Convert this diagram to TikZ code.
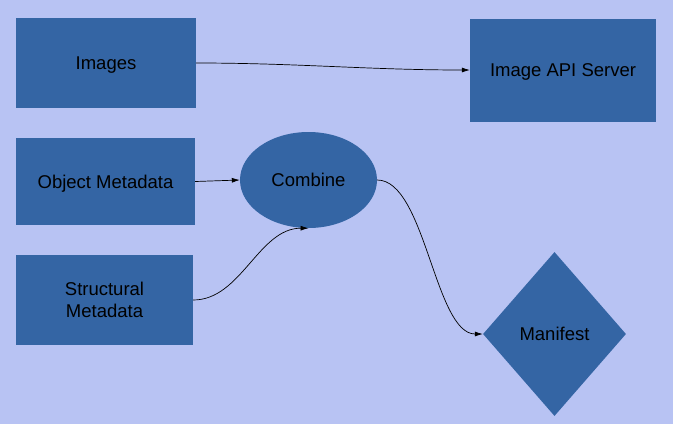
\documentclass[tikz,border=0pt]{standalone}
\usepackage{fontspec}
\setmainfont{Liberation Sans}
\usetikzlibrary{positioning, arrows.meta, shapes.geometric}
\definecolor{bgblue}{HTML}{B8C3F3}
\definecolor{boxblue}{HTML}{3465A4}
\begin{document}
\begin{tikzpicture}[x=1pt, y=-1pt, >={Latex[length=8pt,width=5pt]},
    every node/.style={font=\fontsize{18.5}{21.5}\selectfont, text=black},
    box/.style={rectangle, fill=boxblue, inner sep=0pt, align=center},
    oneline/.style={text height=14pt, text depth=0.4pt},
    link/.style={->, line width=0.7pt, black}]
			\fill[bgblue] (0,0) rectangle (673,424);
			\useasboundingbox (0,0) rectangle (673,424);
			% Nodes
			\node (Images) [box, oneline, minimum width=180pt, minimum height=90pt] at (106,63) {Images};
			\node (Server) [box, oneline, minimum width=186pt, minimum height=103pt] at (563,70) {Image API Server};
			\node (ObjMeta) [box, oneline, minimum width=179pt, minimum height=87pt] at (105.5,181.5) {Object Metadata};
			\node (StructMeta) [box, minimum width=177pt, minimum height=90pt] at (104.5,300) {Structural\\Metadata};
			\node (Combine) [ellipse, oneline, fill=boxblue, inner sep=0pt, minimum width=137pt, minimum height=96pt] at (308.5,180) {Combine};
			\node (Manifest) [diamond, oneline, fill=boxblue, inner sep=0pt, aspect=0.872, minimum width=143pt, minimum height=164pt] at (554.5,334) {Manifest};

			% Arrows
			\draw[link] (Images.east) .. controls +(100,0) and +(-100,0) .. (Server.west);
			\draw[link] (ObjMeta.east) -- (Combine.west);
			\draw[link] (StructMeta.east) .. controls +(48,0) and +(-50,0) .. (Combine.south);
			\draw[link] (Combine.east) .. controls +(48,0) and +(-48,0) .. (Manifest.west);
		\end{tikzpicture}
\end{document}
